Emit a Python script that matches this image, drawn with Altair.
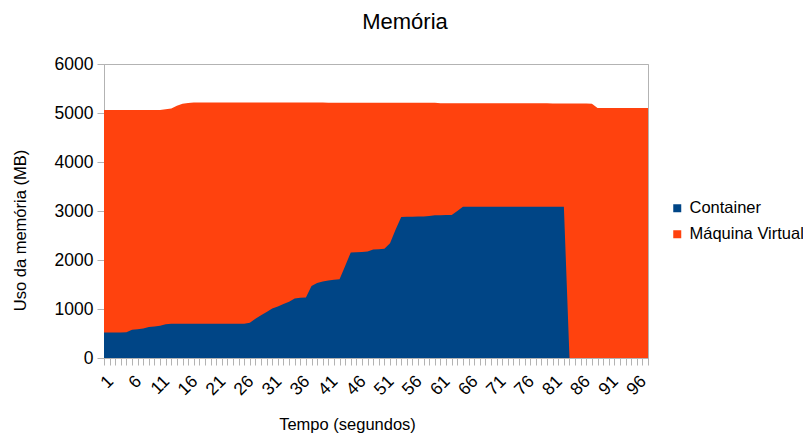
import altair as alt
import pandas as pd

tempo = list(range(1, 99))

maquina_virtual = [
    5060, 5060, 5060, 5060, 5060, 5060, 5060, 5060, 5060, 5060,
    5060, 5075, 5090, 5150, 5190, 5205, 5212, 5215, 5215, 5215,
    5215, 5215, 5215, 5215, 5215, 5215, 5215, 5215, 5215, 5215,
    5215, 5215, 5215, 5215, 5215, 5215, 5215, 5215, 5215, 5215,
    5210, 5210, 5210, 5210, 5210, 5210, 5210, 5210, 5210, 5210,
    5210, 5210, 5210, 5210, 5210, 5210, 5210, 5210, 5210, 5210,
    5200, 5200, 5200, 5200, 5200, 5200, 5200, 5200, 5200, 5200,
    5200, 5200, 5200, 5200, 5200, 5200, 5200, 5200, 5200, 5200,
    5195, 5195, 5195, 5195, 5195, 5195, 5195, 5190, 5100, 5100,
    5100, 5100, 5100, 5100, 5100, 5100, 5100, 5100,
]

container = [
    520, 520, 520, 520, 525, 575, 585, 600, 635, 645,
    660, 690, 700, 700, 700, 700, 700, 700, 700, 700,
    700, 700, 700, 700, 700, 700, 720, 800, 875, 940,
    1010, 1050, 1100, 1150, 1215, 1230, 1235, 1470, 1530, 1560,
    1580, 1595, 1605, 1880, 2155, 2160, 2165, 2175, 2215, 2220,
    2230, 2340, 2620, 2880, 2885, 2885, 2888, 2890, 2900, 2915,
    2915, 2918, 2920, 3000, 3085, 3088, 3088, 3088, 3088, 3088,
    3088, 3088, 3088, 3088, 3088, 3088, 3088, 3088, 3088, 3088,
    3088, 3088, 3088, 0, 0, 0, 0, 0, 0, 0,
    0, 0, 0, 0, 0, 0, 0, 0,
]

series_names = ["Container", "Máquina Virtual"]
series_colors = ["#004586", "#ff420e"]
y_ticks = [0, 1000, 2000, 3000, 4000, 5000, 6000]

df = pd.DataFrame({
    "t": tempo * 2,
    "serie": ["Máquina Virtual"] * len(tempo) + ["Container"] * len(tempo),
    "valor": maquina_virtual + container,
})

FONT = "Liberation Sans"
GRAY = "#b3b3b3"

color = alt.Color(
    "serie:N",
    scale=alt.Scale(domain=series_names, range=series_colors),
    legend=alt.Legend(
        title=None,
        orient="none",
        legendX=565,
        legendY=136,
        symbolType="square",
        symbolSize=64,
        symbolStrokeWidth=0,
        labelFont=FONT,
        labelFontSize=16.5,
        labelColor="black",
        labelOffset=4,
        rowPadding=9,
        padding=0,
    ),
)

x = alt.X(
    "t:Q",
    scale=alt.Scale(domain=[1, 98], nice=False, zero=False),
    axis=alt.Axis(
        values=tempo,
        labelExpr="(datum.value - 1) % 5 == 0 ? datum.label : ''",
        labelAngle=-45,
        labelOverlap=False,
        grid=False,
        tickSize=7,
        labelPadding=7,
        title="Tempo (segundos)",
        titleX=243,
        titleY=66,
        titleBaseline="middle",
    ),
)

y = alt.Y(
    "valor:Q",
    stack=None,
    scale=alt.Scale(domain=[0, 6000], nice=False),
    axis=alt.Axis(
        values=y_ticks,
        format="d",
        grid=True,
        tickSize=7,
        labelPadding=4,
        title="Uso da memória (MB)",
        titleX=-84,
        titleY=166,
        titleBaseline="middle",
    ),
)

vm_layer = alt.Chart(df).transform_filter(
    alt.datum.serie == "Máquina Virtual"
).mark_area(interpolate="linear", opacity=1).encode(x=x, y=y, color=color)

ct_layer = alt.Chart(df).transform_filter(
    alt.datum.serie == "Container"
).mark_area(interpolate="linear", opacity=1).encode(x=x, y=y, color=color)

chart = (
    alt.layer(vm_layer, ct_layer)
    .properties(
        width=544,
        height=294,
        autosize=alt.AutoSizeParams(type="none"),
        padding={"left": 96, "top": 56, "right": 155, "bottom": 76},
        title=alt.Title(
            "Memória",
            font=FONT,
            fontSize=22,
            fontWeight="normal",
            color="black",
            frame="group",
            anchor="middle",
            dx=29,
            offset=21,
        ),
    )
    .configure_view(stroke=GRAY, strokeWidth=1)
    .configure_axis(
        labelFont=FONT,
        labelFontSize=17.5,
        labelColor="black",
        titleFont=FONT,
        titleFontSize=16.5,
        titleFontWeight="normal",
        titleColor="black",
        gridColor=GRAY,
        tickColor=GRAY,
        domainColor=GRAY,
    )
)

chart.save("out.html", embed_options={"renderer": "svg", "actions": False})
